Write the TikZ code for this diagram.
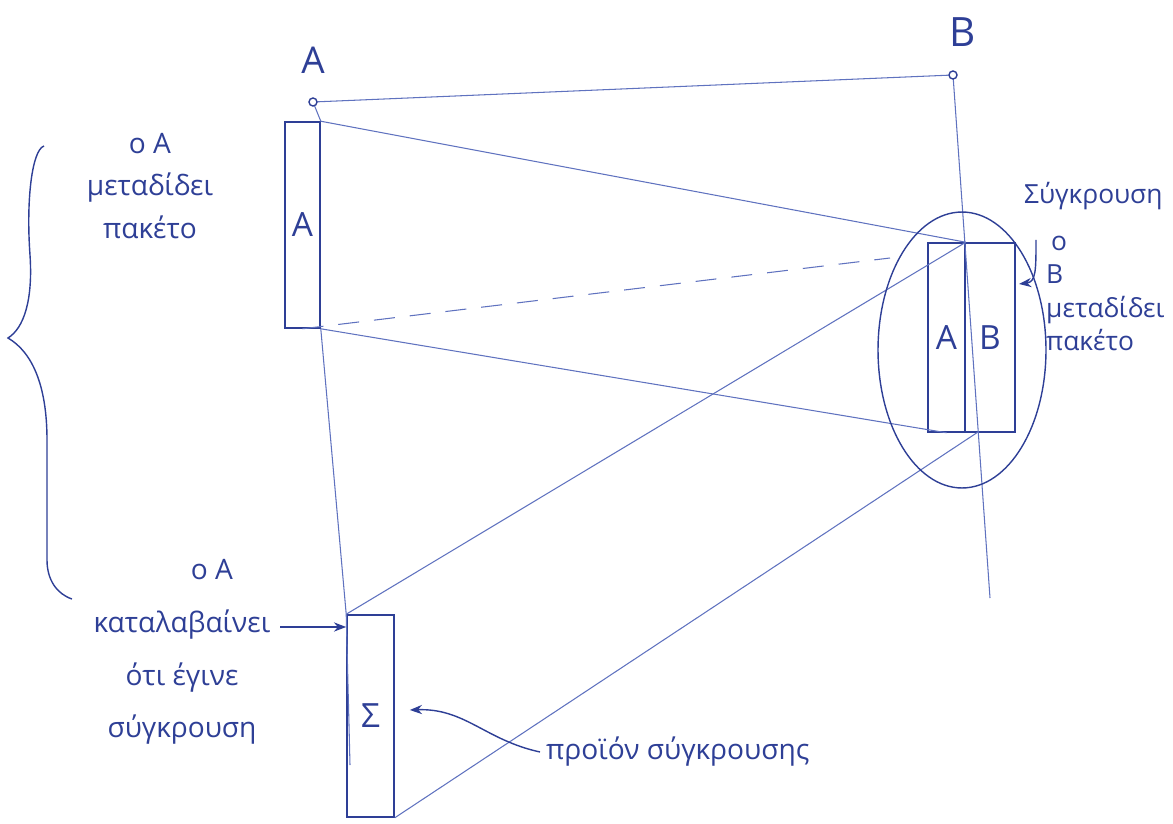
\documentclass[tikz,border=0pt]{standalone}
\usepackage{fontspec}
\setmainfont{Open Sans}
\usetikzlibrary{arrows.meta}
\definecolor{ink}{HTML}{2E3F96}
\definecolor{wireink}{HTML}{5F72BF}

\begin{document}
\begin{tikzpicture}[x=0.02cm, y=-0.02cm, font=\fontsize{16}{24}\selectfont, ink,
  packet/.style={draw=ink, line width=0.9pt, inner sep=0pt, font=\fontsize{19}{19}\selectfont},
  wire/.style={draw=wireink, line width=0.6pt},
  note/.style={align=center, text=ink}]
  % πλαίσιο: ίδιες αναλογίες με το σχέδιο
  \useasboundingbox (0,0) rectangle (1173,824);
  \clip (0,0) rectangle (1173,824);

  % σταθμοί A και B (πάνω) και τέλος των αξόνων χρόνου
  \coordinate (A) at (313,102);    % σταθμός A
  \coordinate (B) at (953,75);     % σταθμός B
  \coordinate (Aend) at (350,765);
  \coordinate (Bend) at (990,598);
  \coordinate (Bbot) at (978,432); % κάτω άκρη του B πάνω στον άξονα
  \coordinate (dashEnd) at (890,258);

  % πακέτα
  \node[packet, minimum width=0.70cm, minimum height=4.12cm] (pA) at (302.5,225) {A};
  \node[packet, minimum width=0.74cm, minimum height=3.78cm] (pBa) at (946.5,337.5) {A};
  \node[packet, minimum width=1.00cm, minimum height=3.78cm] (pBb) at (990,337.5) {B};
  \node[packet, minimum width=0.94cm, minimum height=4.04cm] (sigma) at (370.5,716) {Σ};

  % ονόματα σταθμών
  \node[font=\fontsize{21}{21}\selectfont] (labA) at (313,60) {A};
  \node[font=\fontsize{23}{23}\selectfont] (labB) at (963,32) {B};

  % άξονες χρόνου
  \draw[wire] (A) -- (B);
  \draw[wire] (A) -- (pA.north east);
  \draw[wire] (pA.south east) -- (sigma.north west) -- (Aend);
  \draw[wire] (B) -- (Bend);
  \draw[ink, line width=0.8pt, fill=white] (A) circle (0.08cm);
  \draw[ink, line width=0.8pt, fill=white] (B) circle (0.08cm);

  % διάδοση των σημάτων
  \draw[wire] (pA.north east) -- (pBa.north east);
  \draw[wire] (pA.south east) -- (pBa.south);
  \draw[wire, dash pattern=on 0.42cm off 0.3cm] (pA.south) -- (dashEnd);
  \draw[wire] (pBa.north east) -- (sigma.north west);
  \draw[wire] (Bbot) -- (sigma.south east);

  % περιοχή σύγκρουσης
  \draw[ink, line width=0.8pt] (962,350) ellipse [x radius=1.68cm, y radius=2.76cm];

  % άγκιστρο αριστερά
  \draw[ink, line width=0.8pt] (44,146) .. controls (32,150) and (26,200) .. (30,255)
    .. controls (33,300) and (24,328) .. (8,338)
    .. controls (32,352) and (47,385) .. (47,440) -- (47,560)
    .. controls (47,580) and (57,594) .. (72,599);

  % σημειώσεις
  \node[note] (sendA) at (150,186) {ο A\\μεταδίδει\\πακέτο};
  \node[note, font=\fontsize{16}{30}\selectfont] (detectA) at (182,652)
    {\hspace*{1.2cm}ο A\\καταλαβαίνει\\ότι έγινε\\σύγκρουση};
  \node[anchor=west, font=\fontsize{15}{15}\selectfont] (coll) at (1018,196) {Σύγκρουση};
  \node[anchor=north west, align=left, font=\fontsize{15}{19}\selectfont] (sendB) at (1040,230)
    {\hspace*{0.1cm}ο\\B\\μεταδίδει\\πακέτο};
  \node[anchor=west] (prod) at (540,752) {προϊόν σύγκρουσης};

  % βέλη των σημειώσεων
  \coordinate (hintA) at (280,627);
  \coordinate (hookB) at (1019,284);
  \draw[ink, line width=0.8pt, -{Stealth[length=7pt]}] (hintA) -- (sigma.north west |- hintA);
  \draw[ink, line width=0.8pt, -{Stealth[length=7pt]}] (prod.west) .. controls (485,740) and (465,708) .. ([xshift=0.3cm]sigma.east |- 0,710);
  \draw[ink, line width=0.8pt, -{Stealth[length=7pt]}] (1036,240) .. controls (1036,270) and (1036,282) .. (hookB);
\end{tikzpicture}
\end{document}
